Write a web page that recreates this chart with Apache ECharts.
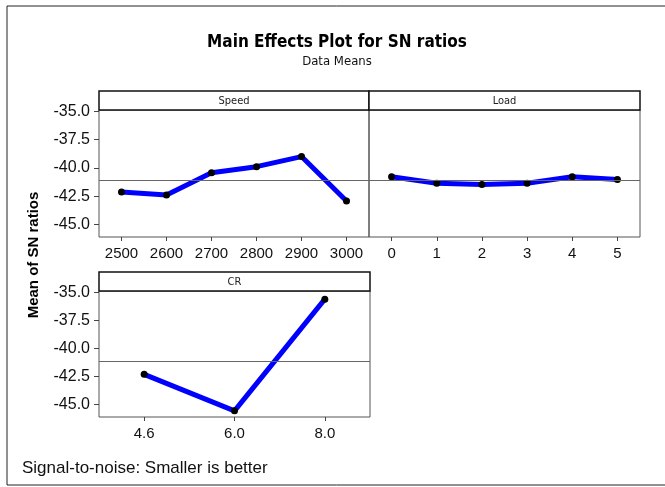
<!DOCTYPE html>
<html>
<head>
<meta charset="utf-8">
<script src="https://cdn.jsdelivr.net/npm/echarts@6/dist/echarts.min.js"></script>
<style>
html, body { margin: 0; padding: 0; background: #fff; }
#main { width: 665px; height: 487px; }
</style>
</head>
<body>
<div id="main"></div>
<script>
// data
var speedLevels = ['2500', '2600', '2700', '2800', '2900', '3000'];
var speedSN = [-42.12, -42.38, -40.42, -39.88, -38.99, -42.92];
var loadLevels = ['0', '1', '2', '3', '4', '5'];
var loadSN = [-40.78, -41.34, -41.46, -41.34, -40.78, -41.01];
var crLevels = ['4.6', '6.0', '8.0'];
var crSN = [-42.3, -45.55, -35.6];
var yTicks = [-45, -42.5, -40, -37.5, -35];

// grand mean (the grey reference line)
var grandMean = speedSN.reduce(function (a, b) { return a + b; }, 0) / speedSN.length;

var numFont = '"Liberation Sans", Arial, sans-serif';
var narrowFont = '"Liberation Sans Narrow", "DejaVu Sans Condensed", "Liberation Sans", sans-serif';

function xAxisFor(idx, cats) {
    return {
        type: 'category', gridIndex: idx, data: cats, boundaryGap: true,
        axisLine: { show: false },
        axisTick: { show: true, alignWithLabel: true, length: 4, lineStyle: { color: '#444' } },
        axisLabel: { color: '#111', fontSize: 15, fontFamily: numFont, margin: 9, interval: 0, hideOverlap: false },
        splitLine: { show: false }
    };
}

function yAxisFor(idx, showLabels) {
    return {
        type: 'value', gridIndex: idx, min: -46.1, max: -34.87,
        axisLine: { show: false },
        axisTick: { show: showLabels, length: 5, customValues: yTicks, lineStyle: { color: '#444' } },
        axisLabel: {
            show: showLabels, customValues: yTicks, hideOverlap: false,
            showMinLabel: true, showMaxLabel: true,
            color: '#111', fontSize: 16, fontFamily: numFont, margin: 9,
            formatter: function (v) { return v.toFixed(1); }
        },
        splitLine: { show: false }
    };
}

function seriesFor(idx, vals) {
    return {
        type: 'line', xAxisIndex: idx, yAxisIndex: idx, data: vals,
        symbol: 'circle', symbolSize: 7, showSymbol: true,
        lineStyle: { color: '#0000ff', width: 5 },
        itemStyle: { color: '#000' },
        z: 3,
        markLine: {
            silent: true, symbol: 'none', label: { show: false },
            lineStyle: { color: '#666', width: 1, type: 'solid' },
            data: [{ yAxis: grandMean }]
        }
    };
}

function strip(x, y, w, label) {
    return [
        { type: 'rect', shape: { x: x, y: y, width: w, height: 19 },
          style: { fill: '#fff', stroke: '#111', lineWidth: 1.5 } },
        { type: 'text', x: x + w / 2, y: y + 10,
          style: { text: label, fill: '#222', font: '11px ' + narrowFont, align: 'center', verticalAlign: 'middle' } }
    ];
}

var option = {
    backgroundColor: '#fff',
    animation: false,
    grid: [
        { left: 99, top: 110, width: 270, height: 127, show: true, borderColor: '#555', borderWidth: 1, backgroundColor: 'transparent' },
        { left: 369, top: 110, width: 271, height: 127, show: true, borderColor: '#555', borderWidth: 1, backgroundColor: 'transparent' },
        { left: 99, top: 291, width: 271, height: 126, show: true, borderColor: '#555', borderWidth: 1, backgroundColor: 'transparent' }
    ],
    xAxis: [xAxisFor(0, speedLevels), xAxisFor(1, loadLevels), xAxisFor(2, crLevels)],
    yAxis: [yAxisFor(0, true), yAxisFor(1, false), yAxisFor(2, true)],
    series: [seriesFor(0, speedSN), seriesFor(1, loadSN), seriesFor(2, crSN)],
    graphic: [].concat(
        [
            { type: 'rect', shape: { x: 7, y: 6, width: 670, height: 479 },
              style: { fill: 'none', stroke: '#222', lineWidth: 1 }, z: -10 },
            { type: 'text', x: 337, y: 43,
              style: { text: 'Main Effects Plot for SN ratios', fill: '#000', font: 'bold 17px ' + narrowFont, align: 'center', verticalAlign: 'middle' } },
            { type: 'text', x: 337, y: 62,
              style: { text: 'Data Means', fill: '#111', font: '13px ' + narrowFont, align: 'center', verticalAlign: 'middle' } },
            { type: 'text', x: 34, y: 255, rotation: Math.PI / 2,
              style: { text: 'Mean of SN ratios', fill: '#000', font: 'bold 15px ' + numFont, align: 'center', verticalAlign: 'middle' } },
            { type: 'text', x: 22, y: 468,
              style: { text: 'Signal-to-noise: Smaller is better', fill: '#111', font: '17px ' + numFont, align: 'left', verticalAlign: 'middle' } }
        ],
        strip(99, 91, 270, 'Speed'),
        strip(369, 91, 271, 'Load'),
        strip(99, 272, 271, 'CR')
    )
};

var chart = echarts.init(document.getElementById('main'), null, { renderer: 'canvas' });
chart.setOption(option);
</script>
</body>
</html>
